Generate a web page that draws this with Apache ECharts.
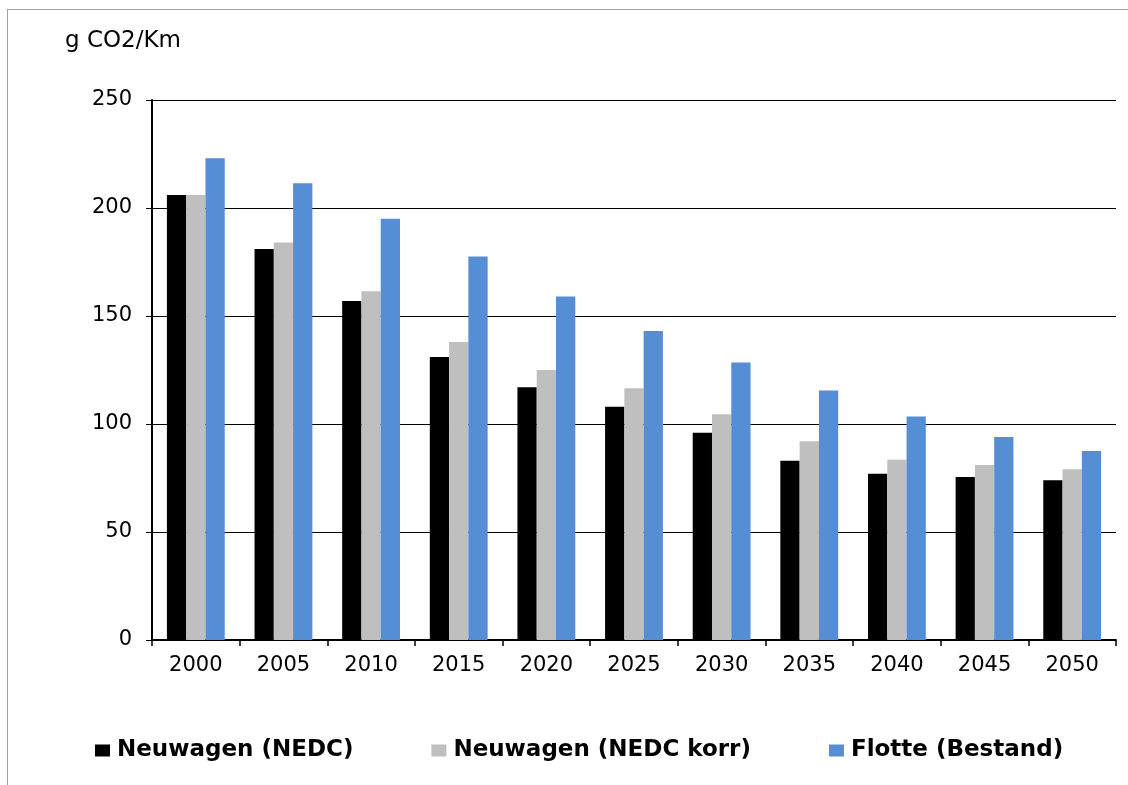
<!DOCTYPE html>
<html>
<head>
<meta charset="utf-8">
<script src="https://cdn.jsdelivr.net/npm/echarts@6/dist/echarts.min.js"></script>
<style>
  html, body { margin: 0; padding: 0; background: #fff; }
  #frame { position: absolute; left: 7px; top: 9px; width: 1130px; height: 800px; border-left: 1px solid #a0a0a0; border-top: 1px solid #a0a0a0; }
  #main { position: absolute; left: 0; top: 0; width: 1128px; height: 785px; }
</style>
</head>
<body>
<div id="frame"></div>
<div id="main"></div>
<script>
var years = ['2000', '2005', '2010', '2015', '2020', '2025', '2030', '2035', '2040', '2045', '2050'];
var neuNEDC = [206, 181, 157, 131, 117, 108, 96, 83, 77, 75.5, 74];
var neuKorr = [206, 184, 161.5, 138, 125, 116.5, 104.5, 92, 83.5, 81, 79];
var flotte = [223, 211.5, 195, 177.5, 159, 143, 128.5, 115.5, 103.5, 94, 87.5];

var fontFam = 'DejaVu Sans, Liberation Sans, Arial, sans-serif';
var chartDom = document.getElementById('main');
var myChart = echarts.init(chartDom);
var option = {
  animation: false,
  textStyle: { fontFamily: fontFam },
  grid: { left: 152, right: 12, top: 100, bottom: 145 },
  legend: {
    top: 734,
    left: 90,
    itemWidth: 15,
    itemHeight: 12,
    itemGap: 78,
    icon: 'rect',
    textStyle: { fontSize: 23, fontWeight: 'bold', color: '#000', fontFamily: fontFam, padding: [0, 0, 0, 2] },
    data: ['Neuwagen (NEDC)', 'Neuwagen (NEDC korr)', 'Flotte (Bestand)']
  },
  xAxis: {
    type: 'category',
    data: years,
    axisLine: { lineStyle: { color: '#000', width: 2 } },
    axisTick: { show: true, alignWithLabel: false, length: 6, lineStyle: { color: '#000', width: 1.5 } },
    axisLabel: { color: '#000', fontSize: 21, margin: 15 }
  },
  yAxis: {
    type: 'value',
    name: 'g CO2/Km',
    nameLocation: 'end',
    nameGap: 47,
    nameTextStyle: { color: '#000', fontSize: 23, align: 'left', padding: [0, 0, 0, -87] },
    min: 0,
    max: 250,
    interval: 50,
    axisLine: { show: true, lineStyle: { color: '#000', width: 2 } },
    axisTick: { show: true, length: 6, lineStyle: { color: '#000' } },
    axisLabel: { color: '#000', fontSize: 21, margin: 20 },
    splitLine: { show: true, lineStyle: { color: '#000', width: 1.2 } }
  },
  series: [
    { name: 'Neuwagen (NEDC)', type: 'bar', data: neuNEDC, barGap: '0%', barCategoryGap: '34%', itemStyle: { color: '#000000' } },
    { name: 'Neuwagen (NEDC korr)', type: 'bar', data: neuKorr, itemStyle: { color: '#bfbfbf' } },
    { name: 'Flotte (Bestand)', type: 'bar', data: flotte, itemStyle: { color: '#558ed5' } }
  ]
};
myChart.setOption(option);
</script>
</body>
</html>
